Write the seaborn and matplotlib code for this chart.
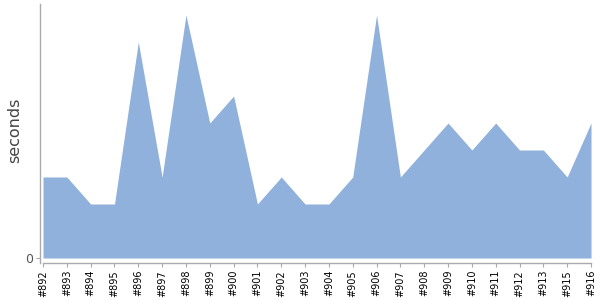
import matplotlib
matplotlib.use("Agg")
import matplotlib.pyplot as plt
import seaborn as sns
import numpy as np
import pandas as pd

builds = ["#892", "#893", "#894", "#895", "#896", "#897", "#898", "#899", "#900",
          "#901", "#902", "#903", "#904", "#905", "#906", "#907", "#908", "#909",
          "#910", "#911", "#912", "#913", "#915", "#916"]
seconds = [3, 3, 2, 2, 8, 3, 9, 5, 6, 2, 3, 2, 2, 3, 9, 3, 4, 5, 4, 5, 4, 4, 3, 5]

df = pd.DataFrame({"build": builds, "seconds": seconds})
df["pos"] = np.arange(len(df))

sns.set_style("white")
fig = plt.figure(figsize=(6, 3), dpi=100)
ax = fig.add_axes([40/600, 37/300, (591-40)/600, (263-4)/300])

fill = "#8fb1db"
sns.lineplot(data=df, x="pos", y="seconds", ax=ax, color=fill, linewidth=0)
ax.fill_between(df["pos"], 0, df["seconds"], color=fill, linewidth=0)

ax.set_xlim(-3/23.83, len(df) - 1)
ax.set_ylim(-5/27.0, 254/27.0)

ax.set_xticks(df["pos"])
ax.set_xticklabels(df["build"], rotation=90, fontsize=7, color="black")
ax.set_yticks([0])
ax.set_yticklabels(["0"], fontsize=9, color="#555555")
ax.set_xlabel("")
ax.set_ylabel("seconds", fontsize=11.5, color="#444444")
ax.yaxis.set_label_coords(-0.033, 0.513)

for s in ["top", "right"]:
    ax.spines[s].set_visible(False)
ax.spines["left"].set_color("#aaaaaa")
ax.spines["bottom"].set_color("#aaaaaa")
ax.spines["left"].set_linewidth(1)
ax.spines["bottom"].set_linewidth(1)
ax.spines["bottom"].set_bounds(0, len(df) - 1)
ax.tick_params(axis="x", length=3, color="#aaaaaa", pad=2, bottom=True)
ax.tick_params(axis="y", length=3, color="#aaaaaa", pad=2, left=True)

fig.savefig("out.png", dpi=100)
